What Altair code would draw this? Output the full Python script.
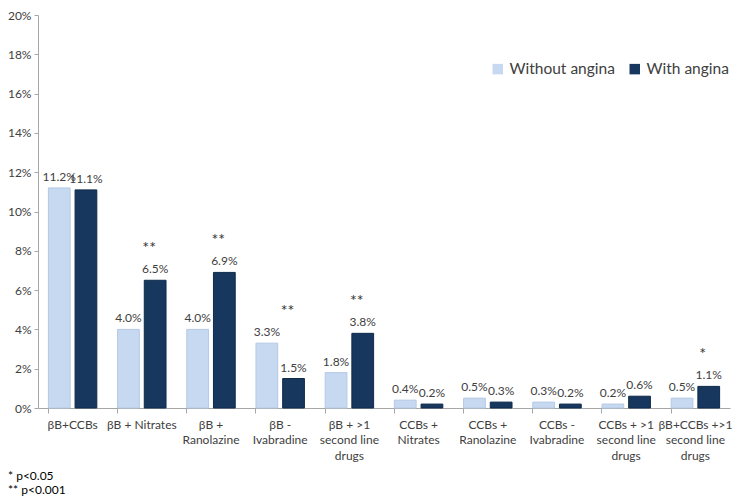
import altair as alt
import pandas as pd

categories = ["βB+CCBs", "βB + Nitrates", "βB + Ranolazine", "βB - Ivabradine",
              "βB + >1 second line drugs", "CCBs + Nitrates", "CCBs + Ranolazine",
              "CCBs - Ivabradine", "CCBs + >1 second line drugs",
              "βB+CCBs +>1 second line drugs"]
label_lines = [["βB+CCBs"], ["βB + Nitrates"], ["βB +", "Ranolazine"], ["βB -", "Ivabradine"],
               ["βB + >1", "second line", "drugs"], ["CCBs +", "Nitrates"], ["CCBs +", "Ranolazine"],
               ["CCBs -", "Ivabradine"], ["CCBs + >1", "second line", "drugs"],
               ["βB+CCBs +>1", "second line", "drugs"]]
without_angina = [11.2, 4.0, 4.0, 3.3, 1.8, 0.4, 0.5, 0.3, 0.2, 0.5]
with_angina = [11.1, 6.5, 6.9, 1.5, 3.8, 0.2, 0.3, 0.2, 0.6, 1.1]
significance = ["", "**", "**", "**", "**", "", "", "", "", "*"]
groups = ["Without angina", "With angina"]
colors = ["#C6D9F1", "#17375E"]
y_ticks = [0, 2, 4, 6, 8, 10, 12, 14, 16, 18, 20]
footnotes = "* p<0.05\n** p<0.001"

rows = []
for i, c in enumerate(categories):
    rows.append({"cat": c, "group": groups[0], "value": without_angina[i]})
    rows.append({"cat": c, "group": groups[1], "value": with_angina[i]})
df = pd.DataFrame(rows)

sig_df = pd.DataFrame({"cat": categories, "sig": significance,
                       "top": [max(a, b) for a, b in zip(without_angina, with_angina)],
                       "group": groups[1]})
sig_df = sig_df[sig_df["sig"] != ""]


def js_arr(lines):
    return "[" + ", ".join("'" + l + "'" for l in lines) + "]"


label_expr = " : ".join(f"datum.value == '{c}' ? {js_arr(l)}" for c, l in zip(categories, label_lines)) + " : datum.value"

FONT = "Lato"
TXT = "#404040"
AX = "#A6A6A6"

xscale = alt.Scale(paddingInner=0.3, paddingOuter=0.15)
x_axis = alt.Axis(title=None, labelExpr=label_expr, labelAngle=0, bandPosition=0,
                  labelLineHeight=15.5, labelFontSize=12, labelColor=TXT, labelFont=FONT,
                  domainColor=AX, tickColor=AX, tickSize=5, labelPadding=6,
                  labelBaseline="top", labelOverlap=False, labelBound=False)
y_axis = alt.Axis(title=None, values=y_ticks, labelExpr="datum.value + '%'",
                  grid=False, labelFontSize=12, labelColor=TXT, labelFont=FONT,
                  domainColor=AX, tickColor=AX, tickSize=4, labelPadding=3,
                  labelOverlap=False)
yscale = alt.Scale(domain=[0, 20])
xenc = alt.X("cat:N", sort=categories, scale=xscale, axis=x_axis)
yenc_val = alt.Y("value:Q", scale=yscale, axis=y_axis)
xoff_scale = alt.Scale(domain=groups, paddingInner=0.185, paddingOuter=0)
xoff = alt.XOffset("group:N", sort=groups, scale=xoff_scale)
color = alt.Color("group:N", sort=groups, scale=alt.Scale(domain=groups, range=colors),
                  legend=alt.Legend(title=None, orient="none", legendX=452, legendY=46, direction="horizontal",
                                    symbolType="square", symbolSize=110, labelFontSize=15.5, labelFont=FONT,
                                    labelColor=TXT, columnPadding=12, symbolStrokeWidth=0))

bars = alt.Chart(df).mark_bar(strokeWidth=1).encode(
    x=xenc, xOffset=xoff, y=yenc_val,
    color=color,
    stroke=alt.Stroke("group:N", sort=groups,
                      scale=alt.Scale(domain=groups, range=["#B4C9E4", "#102a4a"]), legend=None),
)

labels = alt.Chart(df).transform_calculate(
    lbl="format(datum.value, '.1f') + '%'"
).mark_text(baseline="bottom", dy=-4, fontSize=12, font=FONT).encode(
    x=xenc, xOffset=xoff, y=yenc_val, text="lbl:N", color=alt.value(TXT))

stars = alt.Chart(sig_df).mark_text(baseline="bottom", dy=-24, dx=-6, fontSize=16, font=FONT).encode(
    x=xenc, xOffset=xoff,
    y=alt.Y("top:Q", scale=yscale, axis=y_axis), text="sig:N", color=alt.value("#333333"))

foot = alt.Chart(pd.DataFrame({"t": [footnotes]})).mark_text(
    lineBreak="\n", align="left", baseline="top", fontSize=12, font=FONT, lineHeight=14
).encode(x=alt.value(-30), y=alt.value(456), text="t:N", color=alt.value("#000000"))

chart = alt.layer(bars, labels, stars, foot).properties(
    width=692, height=393,
    autosize=alt.AutoSizeParams(type="none"),
    padding={"left": 30, "top": 7, "right": 2, "bottom": 88},
).configure(background="white").configure_view(stroke=None)

chart.save("out.html", embed_options={"renderer": "svg", "actions": False})
